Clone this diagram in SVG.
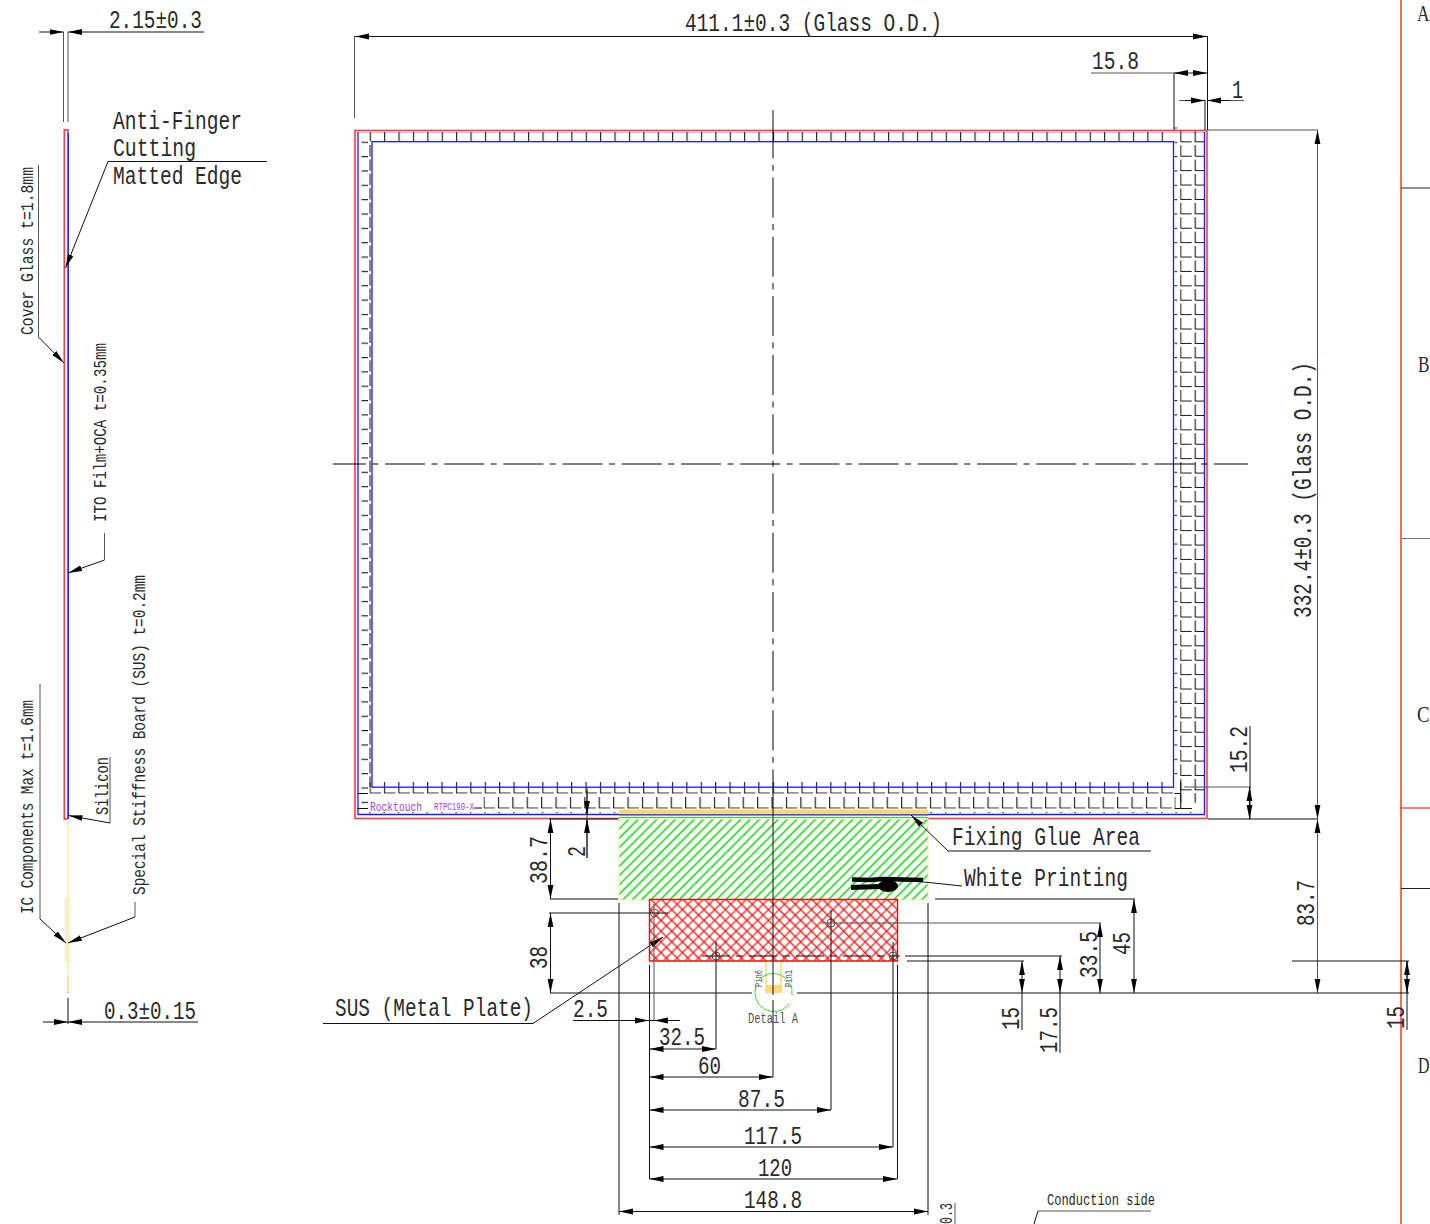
<svg xmlns="http://www.w3.org/2000/svg" width="1430" height="1224" viewBox="0 0 1430 1224">
<style>
text{font-family:"Liberation Mono",monospace;fill:#2a2a2a}
.b{font-size:26px}
.s{font-size:19px}
.m{font-family:"Liberation Serif",serif;font-size:24px}
.l{fill:none;stroke:#111;stroke-width:1}
.g{fill:none;stroke:#555;stroke-width:1}
.a{marker-end:url(#ar)}
.aa{marker-start:url(#ar);marker-end:url(#ar)}
.c{fill:none;stroke:#000;stroke-width:1;stroke-dasharray:40 6.5 6 6.7}
.red{fill:none;stroke:#ff3c3c;stroke-width:1.6}
.blue{fill:none;stroke:#1a1aff;stroke-width:1.3}
.tile{fill:none;stroke:#111;stroke-width:1.1}
</style>
<defs>
<marker id="ar" markerUnits="userSpaceOnUse" markerWidth="15" markerHeight="7" refX="14" refY="3.5" orient="auto-start-reverse"><path d="M0 .6L14 3.5L0 6.4z" fill="#000"/></marker>
<pattern id="ltile" width="14.4" height="14.4" patternUnits="userSpaceOnUse"><path class="tile" d="M.6 0V11H11.5"/></pattern>
<pattern id="htile" x="1.5" y="141.7" width="14.4" height="14.35" patternUnits="userSpaceOnUse"><path class="tile" d="M0 .6H9.5"/></pattern>
<pattern id="vtile" x="369.5" y="145" width="14.4" height="14.35" patternUnits="userSpaceOnUse"><path class="tile" d="M.6 0V11.5"/></pattern>
<pattern id="ttile" x="369.7" y="132" width="14.4" height="12" patternUnits="userSpaceOnUse"><path class="tile" d="M.6 0V9.5"/></pattern>
<pattern id="green" width="6.6" height="6.6" patternUnits="userSpaceOnUse" patternTransform="rotate(45)"><path d="M1 0V6.6" stroke="#10d810" stroke-width="1.5"/></pattern>
<pattern id="cross" width="7.6" height="7.6" patternUnits="userSpaceOnUse" patternTransform="rotate(45)"><path d="M1 0V7.6M0 1H7.6" stroke="#ff0000" stroke-width="1.1" fill="none"/></pattern>
</defs>
<rect width="1430" height="1224" fill="#fff"/>

<g id="title-frame">
<path d="M1401 0V1224" stroke="#ff0000" stroke-width="1.2" fill="none"/>
<path d="M1401 188H1430M1401 888.5H1430" stroke="#222" fill="none"/>
<path d="M1401 538.5H1430" stroke="#777" fill="none"/>
<path d="M1401 808H1430" stroke="#ff0000" fill="none"/>
<text class="m" x="1417" y="21" textLength="12.5" lengthAdjust="spacingAndGlyphs">A</text>
<text class="m" x="1418" y="372" textLength="11.5" lengthAdjust="spacingAndGlyphs">B</text>
<text class="m" x="1417" y="722" textLength="12.5" lengthAdjust="spacingAndGlyphs">C</text>
<text class="m" x="1418" y="1073" textLength="11.5" lengthAdjust="spacingAndGlyphs">D</text>
</g>

<g id="side-view">
<rect class="red" x="64.3" y="130" width="3.7" height="689"/>
<path d="M68.3 133V819" stroke="#1a1aff" stroke-width="1.2" fill="none"/>
<path d="M68 819V976" stroke="#ffe9a8" stroke-width="1.5" fill="none"/>
<rect x="65.5" y="899" width="3.5" height="62" fill="#ffeec0" stroke="#ffe0a0" stroke-width=".6"/>
<path d="M68 976V992" stroke="#ffdf70" stroke-width="1.6" fill="none"/>
<path d="M68 992V993" stroke="#66dd66" stroke-width="1.6" fill="none"/>
</g>

<g id="touch-panel">
<rect x="358" y="132" width="10" height="676" fill="url(#htile)"/>
<rect x="368" y="145" width="4" height="642" fill="url(#vtile)"/>
<rect x="369" y="132" width="805" height="10" fill="url(#ttile)"/>
<rect x="1174.5" y="127.3" width="3" height="660" fill="url(#htile)"/>
<g transform="translate(1180.2 130.8)"><rect width="24" height="672" fill="url(#ltile)"/></g>
<g transform="translate(369.5 782)"><rect width="806" height="11.7" fill="url(#ltile)"/></g>
<g transform="translate(483.5 797)"><rect width="692" height="11.7" fill="url(#ltile)"/></g>
<path d="M1174.5 793.5H1180M1174.5 808.5H1180" class="tile"/>
<path d="M1180.7 782V808.5H1192" class="tile"/>
<path d="M357 793.5H368M357 808.5H368M474 808H482" class="tile"/>
<path d="M369 812.7H1204" fill="none" stroke="#333" stroke-dasharray="1.5 12.9"/>
<rect class="red" x="355" y="130.5" width="852" height="688"/>
<path class="blue" d="M358 132V814.5H1204.5V132"/>
<path class="blue" d="M358 132.5H1204.5" stroke-opacity=".25"/>
<rect class="blue" x="372" y="141.7" width="801.5" height="645.5"/>
<text x="370" y="811" font-size="13" textLength="52" lengthAdjust="spacingAndGlyphs" style="fill:#a040ff">Rocktouch</text>
<text x="434" y="810" font-size="10" textLength="40" lengthAdjust="spacingAndGlyphs" style="fill:#a040ff">RTPC190-X</text>
</g>

<g id="glue-area">
<rect x="619" y="815" width="309" height="84" fill="#fff"/>
<rect x="619" y="819" width="309" height="81" fill="url(#green)" stroke="#ffe6a0" stroke-width="1"/>
<rect x="619" y="809.5" width="309" height="5" fill="#ffd778"/>
<path d="M619 815H928" stroke="#1a1aff" stroke-width="1.2" fill="none"/>
<path d="M619 817.5H928" stroke="#22dd22" stroke-width="1" fill="none"/>
</g>

<g id="fpc-tail">
<path d="M766 961V992M781 961V992" stroke="#ffd778" stroke-width="1.5" fill="none"/>
<rect x="765.5" y="985" width="16" height="8" fill="#ffd778"/>
</g>

<g id="metal-plate">
<rect x="649.5" y="899.5" width="248" height="61.5" fill="#fff"/>
<rect x="649.5" y="899.5" width="248" height="61.5" fill="url(#cross)" stroke="#ff0000" stroke-width="1.4"/>
<g class="g"><circle cx="654.5" cy="913" r="4"/><circle cx="716" cy="956" r="4"/><circle cx="831" cy="923" r="4"/><circle cx="893" cy="956" r="4"/></g>
</g>

<g id="detail-a">
<path d="M756 986A19 19 0 0 0 789 1004M792 995A19 19 0 0 0 758 981" fill="none" stroke="#33dd33" stroke-width="1"/>
<text transform="translate(762 987) rotate(-90)" font-size="11" textLength="17" lengthAdjust="spacingAndGlyphs" style="fill:#555">Pin6</text>
<text transform="translate(792 987) rotate(-90)" font-size="11" textLength="17" lengthAdjust="spacingAndGlyphs" style="fill:#555">Pin1</text>
<text x="748" y="1023" font-size="14" textLength="50" lengthAdjust="spacingAndGlyphs" style="fill:#555">Detail A</text>
</g>

<g id="white-printing-mark">
<path d="M852 879.5L870 880L882 879L923 880" stroke="#000" stroke-width="4.5" fill="none"/>
<path d="M851 887.5L880 886.5" stroke="#000" stroke-width="5" fill="none"/>
<ellipse cx="888" cy="886" rx="10" ry="6" fill="#000"/>
</g>

<g id="connectors">
<path class="c" stroke-dashoffset="7.2" d="M333 464H1248"/>
<path class="c" d="M773 118.3V809"/>
<path class="l" d="M773 110V118M773 809V995M773 1000V1077"/>
<path class="g" d="M63.5 32V122M68 32V122"/>
<path class="l a" d="M39 32H63.5"/>
<path class="l a" d="M204 32H68"/>
<path class="l" d="M108 161.5H267"/>
<path class="l a" d="M108 161.5L65.5 268"/>
<path class="g" d="M38.5 165V337"/>
<path class="l a" d="M38.5 337L64 363"/>
<path class="g" d="M104.5 533V560"/>
<path class="l a" d="M104.5 560L68 573"/>
<path class="g" d="M110 757V823"/>
<path class="l a" d="M110 823L68.5 815.5"/>
<path class="g" d="M135 902V917"/>
<path class="l a" d="M135 917L68 943"/>
<path class="g" d="M40 684V919"/>
<path class="l a" d="M40 919L66 943"/>
<path class="l" d="M68 998V1024"/>
<path class="l a" d="M43 1022H68"/>
<path class="l a" d="M198 1022H68"/>
<path class="g" d="M354.5 36V118"/>
<path class="l" d="M1207.5 36V130M1174 73V130M1205 100V130"/>
<path class="l aa" d="M355 36.5H1207"/>
<path class="g" d="M1091 73H1174"/>
<path class="l a" d="M1190 73H1174"/>
<path class="l a" d="M1190 73H1207"/>
<path class="g" d="M1179 100.5H1192M1220 100.5H1244"/>
<path class="l a" d="M1185 100.5H1205"/>
<path class="l a" d="M1230 100.5H1207"/>
<path class="g" d="M1208 130H1318"/>
<path class="l" d="M1208 819H1318" stroke-width="1.3"/>
<path class="g aa" d="M1317.5 130V819"/>
<path class="g aa" d="M1317.5 819V993"/>
<path class="l" d="M1250 726V819"/>
<path class="g" d="M1184 787H1251"/>
<path class="l aa" d="M1249.5 787V819"/>
<path class="l" d="M1292 961H1409"/>
<path class="l" d="M1407 961V1030"/>
<path class="l aa" d="M1407 961V993"/>
<path class="l" d="M550 993H752M797 993H1409"/>
<path class="l" d="M549 819H618" stroke-width="1.4"/>
<path class="l" d="M550 899H618M1135 899H935"/>
<path class="l aa" d="M550.5 819V899"/>
<path class="l" d="M549 913H668"/>
<path class="l aa" d="M550.5 913V993"/>
<path class="g" d="M587 788V858"/>
<path class="l a" d="M587 790V815"/>
<path class="l a" d="M587 858V819"/>
<path class="l" d="M323 1023.5H533"/>
<path class="l a" d="M533 1023.5L663 937"/>
<path class="l" d="M573 1020.5H680"/>
<path class="l a" d="M625 1020.5H649"/>
<path class="l a" d="M680 1020.5H654"/>
<path class="l" d="M619 903V1215M928 903V1215"/>
<path class="l" d="M649.5 965V1179" stroke-width="1.5"/>
<path class="g" d="M654 904V1020"/>
<path class="l" d="M716 942V1049M831 910V1110M893 942V1147M897.5 965V1179"/>
<path class="l aa" d="M649.5 1049H716"/>
<path class="l aa" d="M649.5 1077H773"/>
<path class="l aa" d="M649.5 1110H831"/>
<path class="l aa" d="M649.5 1147H893"/>
<path class="l aa" d="M649.5 1179H897"/>
<path class="l aa" d="M619 1211.5H928"/>
<path class="l" d="M702 956H900" stroke-dasharray="28 6 7 6"/>
<path class="g" d="M821 923H1101"/>
<path class="l" d="M907 961H1024M905 956H1062"/>
<path class="l aa" d="M1022 961V993"/>
<path class="l" d="M1022 993V1030"/>
<path class="l aa" d="M1060 956V993"/>
<path class="l" d="M1060 993V1053"/>
<path class="l aa" d="M1100 923V993"/>
<path class="l aa" d="M1134 899V993"/>
<path class="l" d="M948 851H1151"/>
<path class="l a" d="M948 851L911 815"/>
<path class="l" d="M962 886L905 880"/>
<path class="g" d="M955 1203V1224"/>
<path class="g" d="M1038 1211H1151"/>
<path class="l" d="M1038 1211L1034 1224"/>
</g>

<g id="labels">
<text class="b" x="109" y="28" textLength="93" lengthAdjust="spacingAndGlyphs">2.15±0.3</text>
<text class="b" x="685" y="31" textLength="257" lengthAdjust="spacingAndGlyphs">411.1±0.3 (Glass O.D.)</text>
<text class="b" x="1092" y="69" textLength="47" lengthAdjust="spacingAndGlyphs">15.8</text>
<text class="b" x="1232" y="98" textLength="11" lengthAdjust="spacingAndGlyphs">1</text>
<text class="b" x="113" y="129" textLength="129" lengthAdjust="spacingAndGlyphs">Anti-Finger</text>
<text class="b" x="113" y="156" textLength="83" lengthAdjust="spacingAndGlyphs">Cutting</text>
<text class="b" x="113" y="184" textLength="129" lengthAdjust="spacingAndGlyphs">Matted Edge</text>
<text class="b" x="104" y="1019" textLength="92" lengthAdjust="spacingAndGlyphs">0.3±0.15</text>
<text class="s" transform="translate(33 335) rotate(-90)" textLength="168" lengthAdjust="spacingAndGlyphs">Cover Glass t=1.8mm</text>
<text class="s" transform="translate(106 522) rotate(-90)" textLength="179" lengthAdjust="spacingAndGlyphs">ITO Film+OCA t=0.35mm</text>
<text class="s" transform="translate(108 815) rotate(-90)" textLength="58" lengthAdjust="spacingAndGlyphs">Silicon</text>
<text class="s" transform="translate(145 895) rotate(-90)" textLength="320" lengthAdjust="spacingAndGlyphs">Special Stiffness Board (SUS) t=0.2mm</text>
<text class="s" transform="translate(33 914) rotate(-90)" textLength="214" lengthAdjust="spacingAndGlyphs">IC Components Max t=1.6mm</text>
<text class="b" transform="translate(1311 618) rotate(-90)" textLength="256" lengthAdjust="spacingAndGlyphs">332.4±0.3 (Glass O.D.)</text>
<text class="b" transform="translate(1314 926) rotate(-90)" textLength="46" lengthAdjust="spacingAndGlyphs">83.7</text>
<text class="b" transform="translate(1247 773) rotate(-90)" textLength="47" lengthAdjust="spacingAndGlyphs">15.2</text>
<text class="b" transform="translate(1404 1029) rotate(-90)" textLength="23" lengthAdjust="spacingAndGlyphs">15</text>
<text class="b" transform="translate(547 884) rotate(-90)" textLength="48" lengthAdjust="spacingAndGlyphs">38.7</text>
<text class="b" transform="translate(585 857) rotate(-90)" textLength="11" lengthAdjust="spacingAndGlyphs">2</text>
<text class="b" transform="translate(547 969) rotate(-90)" textLength="23" lengthAdjust="spacingAndGlyphs">38</text>
<text class="b" transform="translate(1097 978) rotate(-90)" textLength="47" lengthAdjust="spacingAndGlyphs">33.5</text>
<text class="b" transform="translate(1130 955) rotate(-90)" textLength="23" lengthAdjust="spacingAndGlyphs">45</text>
<text class="b" transform="translate(1019 1030) rotate(-90)" textLength="23" lengthAdjust="spacingAndGlyphs">15</text>
<text class="b" transform="translate(1057 1053) rotate(-90)" textLength="46" lengthAdjust="spacingAndGlyphs">17.5</text>
<text class="b" x="952" y="845" textLength="188" lengthAdjust="spacingAndGlyphs">Fixing Glue Area</text>
<text class="b" x="964" y="886" textLength="164" lengthAdjust="spacingAndGlyphs">White Printing</text>
<text class="b" x="335" y="1016" textLength="198" lengthAdjust="spacingAndGlyphs">SUS (Metal Plate)</text>
<text class="b" x="573" y="1017" textLength="35" lengthAdjust="spacingAndGlyphs">2.5</text>
<text class="b" x="659" y="1045" textLength="46" lengthAdjust="spacingAndGlyphs">32.5</text>
<text class="b" x="698" y="1074" textLength="23" lengthAdjust="spacingAndGlyphs">60</text>
<text class="b" x="738" y="1107" textLength="47" lengthAdjust="spacingAndGlyphs">87.5</text>
<text class="b" x="744" y="1144" textLength="58" lengthAdjust="spacingAndGlyphs">117.5</text>
<text class="b" x="758" y="1176" textLength="34" lengthAdjust="spacingAndGlyphs">120</text>
<text class="b" x="744" y="1208" textLength="58" lengthAdjust="spacingAndGlyphs">148.8</text>
<text class="s" transform="translate(952 1224) rotate(-90)" textLength="21" lengthAdjust="spacingAndGlyphs">0.3</text>
<text x="1047" y="1205" font-size="16" textLength="108" lengthAdjust="spacingAndGlyphs">Conduction side</text>
</g>
</svg>
